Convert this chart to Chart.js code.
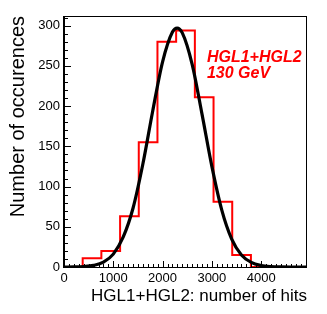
<!DOCTYPE html>
<html>
<head>
<meta charset="utf-8">
<script src="https://cdn.jsdelivr.net/npm/chart.js@4/dist/chart.umd.min.js"></script>
<style>
  body { margin: 0; background: #fff; }
  canvas { display: block; }
</style>
</head>
<body>
<canvas id="myChart" width="327" height="314"></canvas>
<script>
// histogram: 13 bins between 0 and 4930 hits
const binEdges = [0, 379, 758, 1138, 1517, 1896, 2275, 2655, 3034, 3413, 3792, 4172, 4551, 4930];
const binCounts = [0, 11, 20, 63, 155, 280, 294, 211, 81, 15, 0, 0, 0];

// gaussian fit curve
const fitX = [0, 200, 400, 600, 800, 1000, 1200, 1400, 1600, 1800, 2000, 2200, 2295, 2400, 2600, 2800, 3000, 3200, 3400, 3600, 3800, 4000, 4200, 4400, 4600, 4800, 4930];
const fitY = [0, 0.1, 0.6, 2, 6, 16, 37, 73, 128, 194, 255, 292, 297, 291, 252, 190, 125, 71, 35, 15, 5.7, 1.9, 0.5, 0.1, 0, 0, 0];

const xTicks = [0, 1000, 2000, 3000, 4000];
const yTicks = [0, 50, 100, 150, 200, 250, 300];

const labelLines = ['HGL1+HGL2', '130 GeV'];

const fontFamily = '"Liberation Sans", Arial, Helvetica, sans-serif';

// point i starts bin i (last point closes the outline)
const histPoints = binEdges.map(function (x, i) {
  return { x: x, y: i < binCounts.length ? binCounts[i] : 0 };
});
const fitPoints = fitX.map(function (x, i) {
  return { x: x, y: fitY[i] };
});

// frame, inside ticks (ROOT style) and the red label
const frameTicks = {
  id: 'frameTicks',
  afterDatasetsDraw(chart) {
    const ctx = chart.ctx;
    const a = chart.chartArea;
    const xs = chart.scales.x;
    const ys = chart.scales.y;
    ctx.save();
    ctx.strokeStyle = '#000';
    ctx.lineWidth = 1;
    ctx.beginPath();
    for (let v = 0; v <= xs.max; v += 100) {
      const px = Math.round(xs.getPixelForValue(v)) + 0.5;
      const len = v % 1000 === 0 ? 6 : 3;
      ctx.moveTo(px, a.bottom);
      ctx.lineTo(px, a.bottom - len);
    }
    for (let v = 0; v <= ys.max; v += 10) {
      const py = Math.round(ys.getPixelForValue(v)) + 0.5;
      const len = v % 50 === 0 ? 7 : 4;
      ctx.moveTo(a.left, py);
      ctx.lineTo(a.left + len, py);
    }
    ctx.stroke();
    ctx.strokeRect(Math.round(a.left) + 0.5, Math.round(a.top) + 0.5,
      Math.round(a.right - a.left) - 1, Math.round(a.bottom - a.top));
    ctx.beginPath();
    ctx.moveTo(Math.round(a.left) - 0.5, a.top);
    ctx.lineTo(Math.round(a.left) - 0.5, a.bottom + 1);
    ctx.stroke();

    ctx.fillStyle = '#ff0000';
    ctx.font = 'italic bold 16px ' + fontFamily;
    ctx.textAlign = 'left';
    ctx.textBaseline = 'alphabetic';
    const tx = xs.getPixelForValue(2900);
    ctx.fillText(labelLines[0], tx, ys.getPixelForValue(255));
    ctx.fillText(labelLines[1], tx, ys.getPixelForValue(235.5));
    ctx.restore();
  }
};

new Chart(document.getElementById('myChart'), {
  type: 'line',
  data: {
    datasets: [{
      label: 'fit',
      data: fitPoints,
      borderColor: '#000',
      borderWidth: 3.2,
      pointRadius: 0,
      cubicInterpolationMode: 'monotone',
      fill: false,
      order: 0
    }, {
      label: 'HGL1+HGL2',
      data: histPoints,
      borderColor: '#ff0000',
      borderWidth: 2,
      pointRadius: 0,
      stepped: 'before',
      fill: false,
      order: 1
    }]
  },
  options: {
    responsive: false,
    animation: false,
    devicePixelRatio: 1,
    layout: { padding: { top: 16, right: 20, left: 0, bottom: 0 } },
    plugins: { legend: { display: false }, tooltip: { enabled: false } },
    scales: {
      x: {
        type: 'linear',
        min: 0,
        max: 4930,
        grid: { display: false, drawTicks: false, tickLength: 0 },
        border: { display: false },
        afterBuildTicks: function (s) { s.ticks = xTicks.map(function (v) { return { value: v }; }); },
        afterFit: function (s) { s.height = 47; },
        ticks: {
          color: '#000',
          padding: 4,
          maxRotation: 0,
          autoSkip: false,
          font: { family: fontFamily, size: 13 },
          callback: function (v) { return String(v); }
        },
        title: {
          display: true,
          text: 'HGL1+HGL2: number of hits',
          align: 'end',
          color: '#000',
          padding: { top: 0, bottom: 7 },
          font: { family: fontFamily, size: 17 }
        }
      },
      y: {
        type: 'linear',
        min: 0,
        max: 312,
        grid: { display: false, drawTicks: false, tickLength: 0 },
        border: { display: false },
        afterBuildTicks: function (s) { s.ticks = yTicks.map(function (v) { return { value: v }; }); },
        afterFit: function (s) { s.width = 64; },
        ticks: {
          color: '#000',
          padding: 4,
          autoSkip: false,
          font: { family: fontFamily, size: 13 },
          callback: function (v) { return String(v); }
        },
        title: {
          display: true,
          text: 'Number of occurences',
          align: 'end',
          color: '#000',
          padding: { top: 6, bottom: 0 },
          font: { family: fontFamily, size: 20 }
        }
      }
    }
  },
  plugins: [frameTicks]
});
</script>
</body>
</html>
